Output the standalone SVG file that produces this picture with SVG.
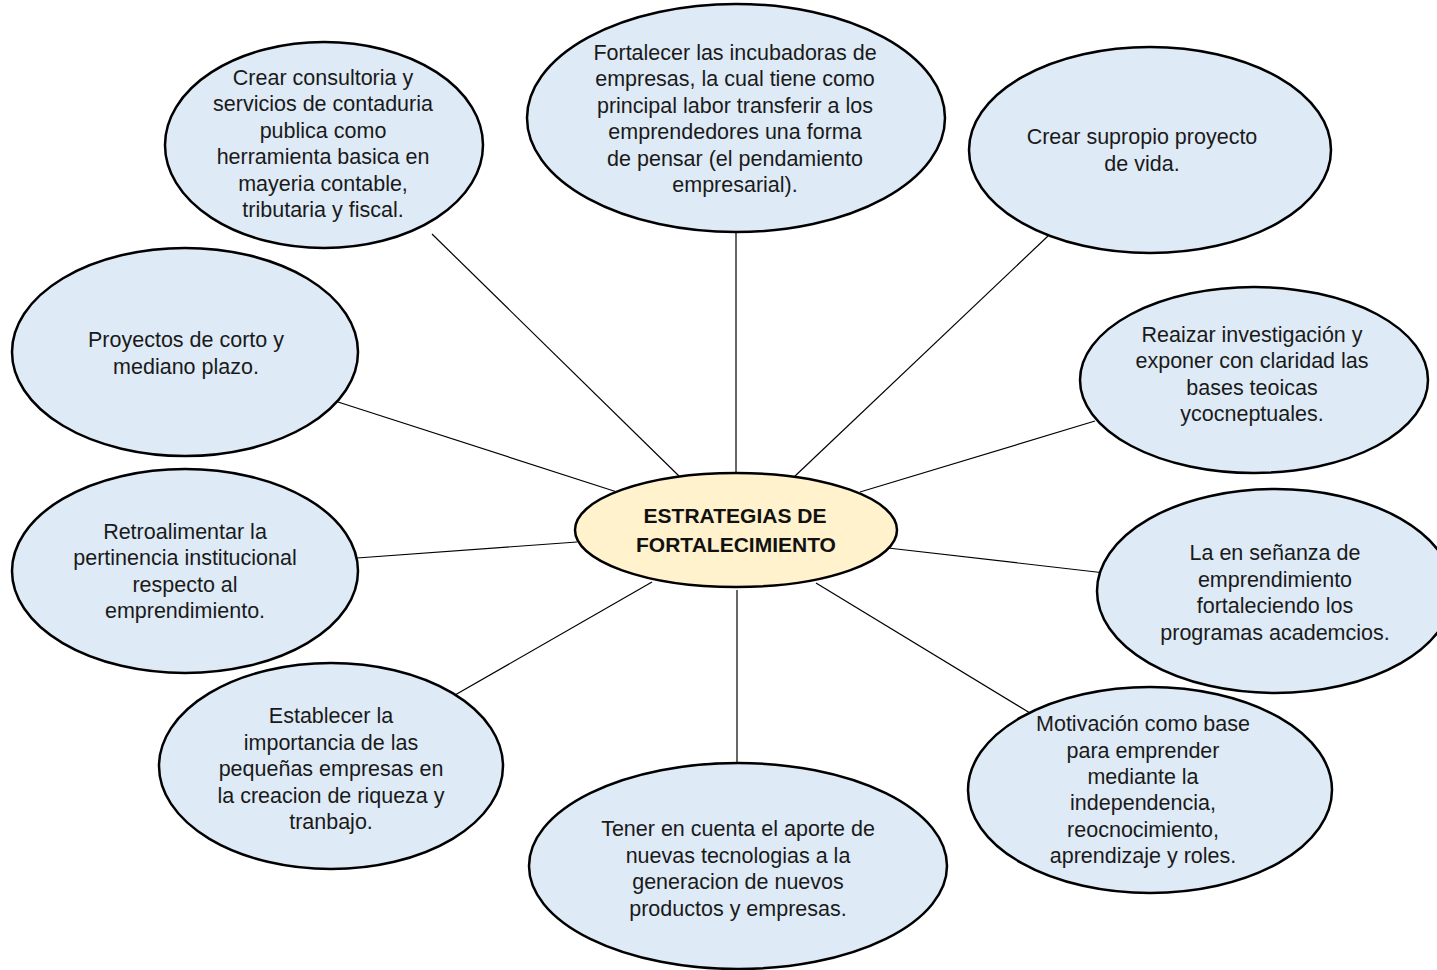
<svg xmlns="http://www.w3.org/2000/svg" width="1437" height="970" viewBox="0 0 1437 970">
<style>
.n{fill:#DEEAF6;stroke:#000;stroke-width:2.5}
.c{fill:#FFF2CC;stroke:#000;stroke-width:2.5}
.t{font-family:"Liberation Sans",Arial,sans-serif;font-size:21.5px;fill:#1a1a1a;text-anchor:middle}
.b{font-family:"Liberation Sans",Arial,sans-serif;font-size:21px;font-weight:bold;fill:#111;text-anchor:middle}
.l{stroke:#000;stroke-width:1.2;fill:none}
</style>
<rect width="1437" height="970" fill="#fff"/>
<g id="connectors">
<line class="l" x1="432" y1="234" x2="680" y2="477"/>
<line class="l" x1="736" y1="233" x2="736" y2="472"/>
<line class="l" x1="1048" y1="236" x2="794" y2="477"/>
<line class="l" x1="1095" y1="421" x2="860" y2="492"/>
<line class="l" x1="1105" y1="573" x2="888" y2="548"/>
<line class="l" x1="1030" y1="713" x2="816" y2="583"/>
<line class="l" x1="737" y1="590" x2="737" y2="764"/>
<line class="l" x1="455" y1="695" x2="652" y2="582"/>
<line class="l" x1="357" y1="558" x2="577" y2="542"/>
<line class="l" x1="338" y1="402" x2="617" y2="492"/>
</g>
<g id="n1">
<ellipse class="n" cx="324" cy="145" rx="159" ry="103"/>
<text class="t"><tspan x="323" y="85">Crear consultoria y</tspan><tspan x="323" y="111">servicios de contaduria</tspan><tspan x="323" y="138">publica como</tspan><tspan x="323" y="164">herramienta basica en</tspan><tspan x="323" y="191">mayeria contable,</tspan><tspan x="323" y="217">tributaria y fiscal.</tspan></text>
</g>
<g id="n2">
<ellipse class="n" cx="736" cy="118" rx="209" ry="114"/>
<text class="t"><tspan x="735" y="60">Fortalecer las incubadoras de</tspan><tspan x="735" y="86">empresas, la cual tiene como</tspan><tspan x="735" y="113">principal labor transferir a los</tspan><tspan x="735" y="139">emprendedores una forma</tspan><tspan x="735" y="166">de pensar (el pendamiento</tspan><tspan x="735" y="192">empresarial).</tspan></text>
</g>
<g id="n3">
<ellipse class="n" cx="1150" cy="150" rx="181" ry="103"/>
<text class="t"><tspan x="1142" y="144">Crear supropio proyecto</tspan><tspan x="1142" y="171">de vida.</tspan></text>
</g>
<g id="n4">
<ellipse class="n" cx="1254" cy="380" rx="174" ry="93"/>
<text class="t"><tspan x="1252" y="342">Reaizar investigación y</tspan><tspan x="1252" y="368">exponer con claridad las</tspan><tspan x="1252" y="395">bases teoicas</tspan><tspan x="1252" y="421">ycocneptuales.</tspan></text>
</g>
<g id="n5">
<ellipse class="n" cx="1275" cy="591" rx="178" ry="102"/>
<text class="t"><tspan x="1275" y="560">La en señanza de</tspan><tspan x="1275" y="587">emprendimiento</tspan><tspan x="1275" y="613">fortaleciendo los</tspan><tspan x="1275" y="640">programas academcios.</tspan></text>
</g>
<g id="n6">
<ellipse class="n" cx="1150" cy="790" rx="182" ry="103"/>
<text class="t"><tspan x="1143" y="731">Motivación como base</tspan><tspan x="1143" y="758">para emprender</tspan><tspan x="1143" y="784">mediante la</tspan><tspan x="1143" y="810">independencia,</tspan><tspan x="1143" y="837">reocnocimiento,</tspan><tspan x="1143" y="863">aprendizaje y roles.</tspan></text>
</g>
<g id="n7">
<ellipse class="n" cx="738" cy="866" rx="209" ry="103"/>
<text class="t"><tspan x="738" y="836">Tener en cuenta el aporte de</tspan><tspan x="738" y="863">nuevas tecnologias a la</tspan><tspan x="738" y="889">generacion de nuevos</tspan><tspan x="738" y="916">productos y empresas.</tspan></text>
</g>
<g id="n8">
<ellipse class="n" cx="331" cy="766" rx="172" ry="103"/>
<text class="t"><tspan x="331" y="723">Establecer la</tspan><tspan x="331" y="750">importancia de las</tspan><tspan x="331" y="776">pequeñas empresas en</tspan><tspan x="331" y="803">la creacion de riqueza y</tspan><tspan x="331" y="829">tranbajo.</tspan></text>
</g>
<g id="n9">
<ellipse class="n" cx="185" cy="571" rx="173" ry="102"/>
<text class="t"><tspan x="185" y="539">Retroalimentar la</tspan><tspan x="185" y="565">pertinencia institucional</tspan><tspan x="185" y="592">respecto al</tspan><tspan x="185" y="618">emprendimiento.</tspan></text>
</g>
<g id="n10">
<ellipse class="n" cx="185" cy="352" rx="173" ry="104"/>
<text class="t"><tspan x="186" y="347">Proyectos de corto y</tspan><tspan x="186" y="374">mediano plazo.</tspan></text>
</g>
<g id="center">
<ellipse class="c" cx="736" cy="530" rx="161" ry="57"/>
<text class="b"><tspan x="735" y="523">ESTRATEGIAS DE</tspan><tspan x="736" y="552">FORTALECIMIENTO</tspan></text>
</g>
</svg>
